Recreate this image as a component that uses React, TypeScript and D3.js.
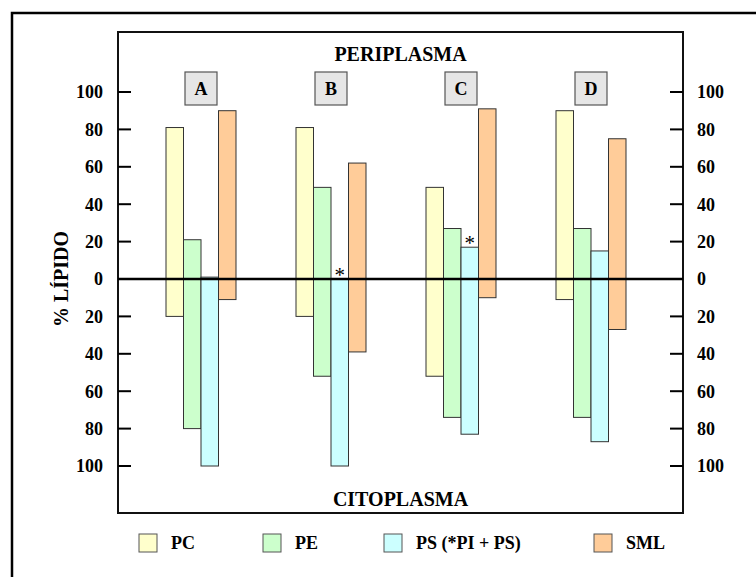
import React from 'react';
import * as d3 from 'd3';

// panels A-D, four lipid classes each; "up" = periplasm side, "down" = cytoplasm side
const panels = ['A', 'B', 'C', 'D'];
const lipids = ['PC', 'PE', 'PS', 'SML'];
const legendLabels = ['PC', 'PE', 'PS (*PI + PS)', 'SML'];
const colors = ['#ffffcc', '#ccffcc', '#ccffff', '#ffcc99'];

const upPC = [81, 81, 49, 90];
const upPE = [21, 49, 27, 27];
const upPS = [1, 0, 17, 15];
const upSML = [90, 62, 91, 75];

const downPC = [20, 20, 52, 11];
const downPE = [80, 52, 74, 74];
const downPS = [100, 100, 83, 87];
const downSML = [11, 39, 10, 27];

// asterisks mark panels where PS is really PI + PS
const starPanels = ['B', 'C'];

const tickValues = [-100, -80, -60, -40, -20, 0, 20, 40, 60, 80, 100];

const W = 756;
const H = 577;
const frame = { left: 118, right: 683, top: 32, bottom: 513 };
const FONT = "Liberation Serif, DejaVu Serif, serif";

export default function App() {
  const up = [upPC, upPE, upPS, upSML];
  const down = [downPC, downPE, downPS, downSML];

  const y = d3.scaleLinear().domain([-100, 100]).range([466, 92]);
  const x = d3
    .scaleBand<string>()
    .domain(panels)
    .range([136, 656])
    .paddingInner(60 / 130)
    .paddingOuter(30 / 130);
  const xi = d3.scaleBand<string>().domain(lipids).range([0, x.bandwidth()]);

  const y0 = y(0);
  const tickLen = 13;
  const bold = { fontFamily: FONT, fontWeight: 'bold' as const };

  return (
    <svg
      width={W}
      height={H}
      style={{ position: 'absolute', left: 0, top: 0, background: '#fff', fontFamily: FONT }}
    >
      {/* outer border (right and bottom run off the picture) */}
      <rect x={12} y={13} width={900} height={800} fill="none" stroke="#000" strokeWidth={2.5} />

      {/* plot frame */}
      <rect
        x={frame.left}
        y={frame.top}
        width={frame.right - frame.left}
        height={frame.bottom - frame.top}
        fill="none"
        stroke="#111"
        strokeWidth={2}
      />

      <text x={(frame.left + frame.right) / 2} y={61} textAnchor="middle" style={bold} fontSize={20}>
        PERIPLASMA
      </text>
      <text x={(frame.left + frame.right) / 2} y={506} textAnchor="middle" style={bold} fontSize={20}>
        CITOPLASMA
      </text>

      {/* axes ticks and labels */}
      {tickValues.map((t) => (
        <g key={t}>
          {t !== 0 && (
            <>
              <line x1={frame.left} x2={frame.left + tickLen} y1={y(t)} y2={y(t)} stroke="#000" strokeWidth={2} />
              <line x1={frame.right - tickLen} x2={frame.right} y1={y(t)} y2={y(t)} stroke="#000" strokeWidth={2} />
            </>
          )}
          <text x={103} y={y(t)} dy="0.35em" textAnchor="end" style={bold} fontSize={18}>
            {Math.abs(t)}
          </text>
          <text x={697} y={y(t)} dy="0.35em" textAnchor="start" style={bold} fontSize={18}>
            {Math.abs(t)}
          </text>
        </g>
      ))}

      <text
        transform={`translate(61, ${y0}) rotate(-90)`}
        textAnchor="middle"
        dy="0.35em"
        style={bold}
        fontSize={20}
      >
        % LÍPIDO
      </text>

      {/* bars */}
      {panels.map((p, pi) => (
        <g key={p} transform={`translate(${x(p)}, 0)`}>
          {lipids.map((l, li) => {
            const bx = xi(l) as number;
            const vUp = up[li][pi];
            const vDown = down[li][pi];
            return (
              <g key={l}>
                <rect
                  x={bx}
                  y={y(vUp)}
                  width={xi.bandwidth()}
                  height={y0 - y(vUp)}
                  fill={colors[li]}
                  stroke="#333"
                  strokeWidth={1}
                />
                <rect
                  x={bx}
                  y={y0}
                  width={xi.bandwidth()}
                  height={y(-vDown) - y0}
                  fill={colors[li]}
                  stroke="#333"
                  strokeWidth={1}
                />
                {l === 'PS' && starPanels.includes(p) && (
                  <text
                    x={bx + xi.bandwidth() / 2}
                    y={y(vUp) + 3}
                    textAnchor="middle"
                    fontSize={21}
                    style={{ fontFamily: FONT }}
                  >
                    *
                  </text>
                )}
              </g>
            );
          })}
          {/* panel letter box */}
          <rect
            x={x.bandwidth() / 2 - 16}
            y={72}
            width={32}
            height={33}
            fill="#e6e6e6"
            stroke="#555"
            strokeWidth={1.2}
          />
          <text x={x.bandwidth() / 2} y={88.5} dy="0.35em" textAnchor="middle" style={bold} fontSize={18}>
            {p}
          </text>
        </g>
      ))}

      {/* zero line */}
      <line x1={frame.left} x2={frame.right} y1={y0} y2={y0} stroke="#000" strokeWidth={2.5} />

      {/* legend */}
      {legendLabels.map((lab, i) => {
        const lx = [139, 263, 384, 594][i];
        return (
          <g key={lab} transform={`translate(${lx}, 534)`}>
            <rect width={18} height={18} fill={colors[i]} stroke="#555" strokeWidth={1} />
            <text x={32} y={15} style={bold} fontSize={18}>
              {lab}
            </text>
          </g>
        );
      })}
    </svg>
  );
}
